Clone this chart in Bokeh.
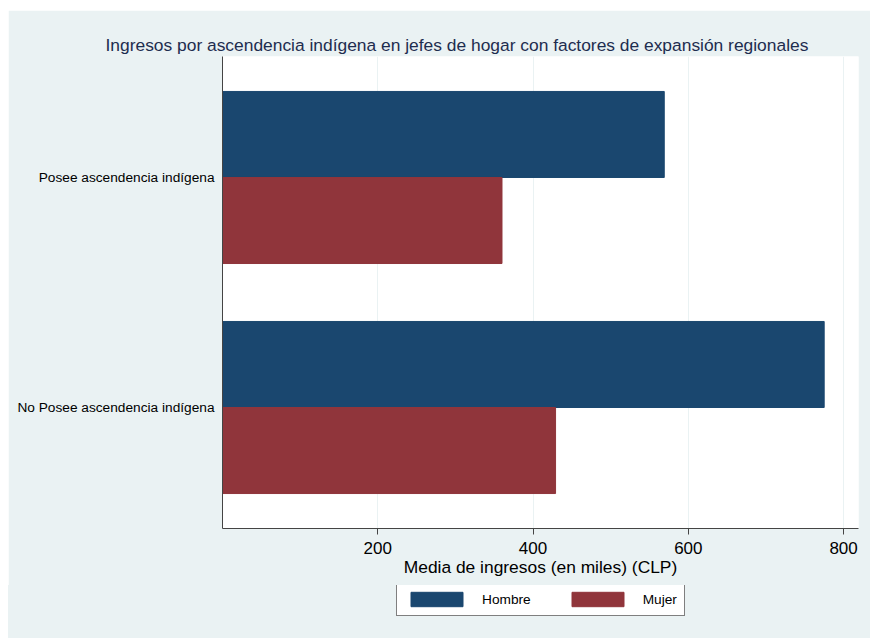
from bokeh.plotting import figure
from bokeh.models import Range1d, FixedTicker, Legend, LegendItem, ColumnDataSource, Spacer
from bokeh.layouts import column, row
from bokeh.embed import file_html
from bokeh.resources import INLINE

categories = ["Posee ascendencia indígena", "No Posee ascendencia indígena"]
cat_pos = [1, 0]
hombre = [569, 775]
mujer = [360, 429]
series = ["Hombre", "Mujer"]
colors = ["#1a476f", "#90353b"]
x_ticks = [200, 400, 600, 800]

BG = "#eaf2f3"
FONT = "Liberation Sans"
bar_h = 0.374

p = figure(width=862, height=575, output_backend="svg", toolbar_location=None,
           x_range=Range1d(0, 819.2), y_range=Range1d(-0.526, 1.526),
           min_border_left=214, min_border_right=12, min_border_top=46, min_border_bottom=57)
p.border_fill_color = BG
p.background_fill_color = "white"
p.outline_line_color = None

src_h = ColumnDataSource(dict(y=[c + bar_h / 2 for c in cat_pos], right=hombre))
src_m = ColumnDataSource(dict(y=[c - bar_h / 2 for c in cat_pos], right=mujer))
p.hbar(y="y", right="right", left=0, height=bar_h, source=src_h,
       fill_color=colors[0], line_color=colors[0])
p.hbar(y="y", right="right", left=0, height=bar_h, source=src_m,
       fill_color=colors[1], line_color=colors[1])

p.title.text = "Ingresos por ascendencia indígena en jefes de hogar con factores de expansión regionales"
p.title.text_font = FONT
p.title.text_font_size = "17.4px"
p.title.text_font_style = "normal"
p.title.text_color = "#1e2d4f"
p.title.align = "left"
p.title.offset = -117
p.title.standoff = 4

xa = p.xaxis[0]
xa.ticker = FixedTicker(ticks=x_ticks)
xa.axis_label = "Media de ingresos (en miles) (CLP)"
xa.axis_label_text_font = FONT
xa.axis_label_text_font_size = "17.4px"
xa.axis_label_text_font_style = "normal"
xa.axis_label_text_color = "black"
xa.axis_label_standoff = 0
xa.major_label_text_font = FONT
xa.major_label_text_font_size = "17px"
xa.major_label_text_color = "black"
xa.major_label_standoff = 7
xa.major_tick_out = 6
xa.major_tick_in = 0
xa.minor_tick_line_color = None
xa.axis_line_color = "#444444"
xa.major_tick_line_color = "#444444"

ya = p.yaxis[0]
ya.ticker = FixedTicker(ticks=cat_pos)
ya.major_label_overrides = {cat_pos[i]: categories[i] for i in range(len(categories))}
ya.major_label_text_font = FONT
ya.major_label_text_font_size = "13.7px"
ya.major_label_text_color = "black"
ya.major_label_standoff = 2
ya.major_tick_line_color = None
ya.minor_tick_line_color = None
ya.axis_line_color = "#444444"

p.xgrid.grid_line_color = BG
p.xgrid.grid_line_width = 1
p.ygrid.grid_line_color = None

# legend panel (separate canvas so the legend is not clipped by the plot frame);
# its frame is aligned with the main plot's frame by the column layout.
pl = figure(width=862, height=53, output_backend="svg", toolbar_location=None,
            x_axis_location=None, y_axis_location=None,
            x_range=Range1d(0, 1), y_range=Range1d(0, 1), min_border=0)
pl.border_fill_color = None
pl.background_fill_color = None
pl.outline_line_color = None
pl.xgrid.grid_line_color = None
pl.ygrid.grid_line_color = None
pl.styles = {"background-color": BG}
# same series as hidden renderers: only their legend swatches show
leg_h = ColumnDataSource(dict(y=[5, 5], right=hombre))
leg_m = ColumnDataSource(dict(y=[5, 5], right=mujer))
lr1 = pl.hbar(y="y", right="right", left=0, height=0.1, source=leg_h,
              fill_color=colors[0], line_color=colors[0], visible=False)
lr2 = pl.hbar(y="y", right="right", left=0, height=0.1, source=leg_m,
              fill_color=colors[1], line_color=colors[1], visible=False)

legend = Legend(items=[LegendItem(label=series[0], renderers=[lr1]),
                       LegendItem(label=series[1], renderers=[lr2])],
                orientation="horizontal", location=(174, 22), click_policy="none",
                border_line_color="black", border_line_width=1,
                background_fill_color="white", background_fill_alpha=1,
                glyph_width=65, glyph_height=18, label_standoff=13, spacing=34,
                padding=7, margin=0,
                label_text_font=FONT, label_text_font_size="13.7px", label_text_color="black")
pl.add_layout(legend)

layout = column(Spacer(width=870, height=10),
                row(Spacer(width=8, height=628), column(p, pl, spacing=0), spacing=0),
                spacing=0)
open("out.html", "w").write(file_html(layout, INLINE))
